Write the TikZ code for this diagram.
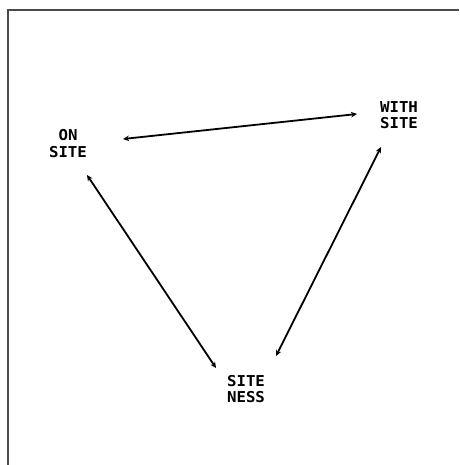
\documentclass[tikz,border=0pt]{standalone}
\usepackage{fontspec}
\newfontfamily\labelfont[FakeStretch=1.05]{DejaVu Sans Mono}
\usetikzlibrary{calc,arrows.meta}
\definecolor{framegray}{HTML}{4A4A4A}
\tikzset{
  lbl/.style={align=center, inner sep=0pt, font=\labelfont\bfseries\fontsize{15}{16.5}\selectfont},
  link/.style={line width=1.8pt, {Stealth[length=6pt,width=5.5pt]}-{Stealth[length=6pt,width=5.5pt]}},
  framel/.style={draw=framegray, line width=1.4pt}
}
\begin{document}
\begin{tikzpicture}[x=1pt,y=-1pt]
\useasboundingbox (0,0) rectangle (459,465);
\draw[framel] (8,465) -- (8,10) -- (459,10);
\node[lbl] (on) at (68,143.5) {ON\\SITE};
\node[lbl] (with) at (399,115) {WITH\\SITE};
\node[lbl] (ness) at (246,389) {SITE\\NESS};
\draw[link] ($(on.center)+(55,-4.5)$) -- ($(with.center)+(-42,-1)$);
\draw[link] ($(on.center)+(19,31.5)$) -- ($(ness.center)+(-30,-21)$);
\draw[link] ($(with.center)+(-18,32)$) -- ($(ness.center)+(30,-33)$);
\end{tikzpicture}
\end{document}
